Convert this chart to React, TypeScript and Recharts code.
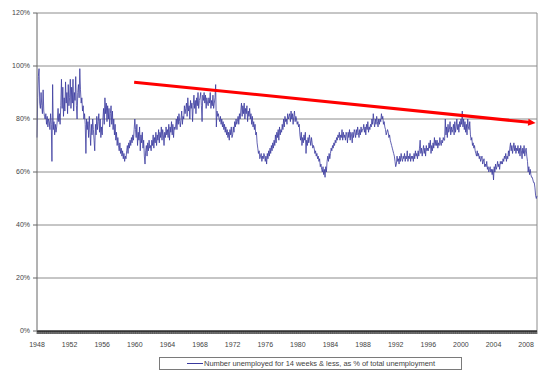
import React from "react";
import { LineChart, Line, XAxis, YAxis, CartesianGrid, ReferenceLine } from "recharts";

// Monthly values, % of total unemployment (Jan 1948 .. May 2009), one row per year
const years1948to1959 = [
  [73, 88, 96, 99, 86, 84, 90, 85, 82, 91, 83, 81],
  [80, 82, 78, 81, 77, 80, 79, 76, 82, 78, 64, 93],
  [76, 79, 74, 78, 75, 77, 80, 84, 79, 82, 78, 85],
  [95, 84, 92, 81, 88, 83, 94, 86, 90, 82, 93, 85],
  [88, 95, 84, 92, 86, 95, 83, 90, 87, 96, 85, 80],
  [90, 93, 88, 99, 91, 86, 88, 83, 85, 80, 82, 78],
  [67, 80, 76, 79, 73, 81, 75, 70, 78, 74, 80, 76],
  [72, 68, 78, 74, 81, 76, 79, 82, 75, 80, 73, 77],
  [74, 80, 84, 78, 88, 82, 86, 79, 85, 80, 84, 77],
  [82, 85, 78, 83, 76, 80, 74, 78, 72, 75, 70, 73],
  [70, 68, 71, 67, 69, 66, 68, 65, 67, 64, 66, 65],
  [68, 70, 67, 71, 69, 72, 70, 73, 71, 74, 72, 76],
];
const years1960to1969 = [
  [80, 76, 73, 78, 70, 75, 72, 77, 68, 74, 71, 75],
  [69, 72, 66, 63, 68, 70, 66, 71, 68, 72, 69, 70],
  [68, 72, 70, 74, 69, 73, 71, 75, 70, 74, 72, 76],
  [71, 75, 73, 77, 72, 76, 74, 70, 75, 73, 77, 74],
  [76, 73, 78, 72, 77, 75, 79, 74, 78, 73, 77, 76],
  [77, 80, 76, 81, 78, 82, 79, 77, 80, 83, 78, 81],
  [80, 85, 82, 84, 86, 81, 88, 83, 85, 80, 87, 84],
  [86, 79, 85, 89, 84, 87, 82, 88, 85, 90, 84, 87],
  [88, 90, 85, 79, 89, 87, 90, 86, 89, 84, 88, 86],
  [85, 88, 86, 90, 84, 87, 85, 89, 84, 86, 88, 93],
];
const years1970to1979 = [
  [77, 83, 81, 82, 80, 79, 81, 78, 80, 77, 79, 76],
  [78, 75, 77, 74, 76, 73, 75, 72, 76, 74, 77, 73],
  [74, 77, 75, 79, 77, 80, 78, 79, 81, 78, 82, 80],
  [83, 86, 81, 85, 82, 86, 80, 84, 82, 85, 79, 83],
  [81, 84, 80, 82, 78, 81, 77, 79, 76, 78, 74, 75],
  [71, 69, 67, 68, 65, 66, 67, 64, 66, 65, 67, 66],
  [64, 66, 63, 67, 65, 68, 66, 69, 67, 70, 68, 71],
  [69, 72, 70, 74, 71, 75, 73, 76, 72, 77, 74, 76],
  [75, 78, 76, 80, 77, 81, 79, 80, 78, 82, 80, 81],
  [82, 79, 83, 80, 82, 78, 81, 83, 79, 81, 80, 78],
];
const years1980to1989 = [
  [79, 77, 78, 74, 72, 75, 70, 73, 71, 74, 72, 75],
  [67, 72, 70, 73, 71, 74, 72, 70, 73, 71, 69, 70],
  [69, 67, 68, 66, 67, 65, 66, 64, 65, 62, 63, 61],
  [60, 62, 59, 61, 58, 62, 60, 64, 66, 64, 67, 65],
  [67, 69, 68, 70, 69, 71, 70, 72, 71, 73, 72, 74],
  [73, 75, 72, 74, 73, 76, 72, 75, 73, 74, 72, 75],
  [74, 71, 75, 73, 76, 72, 75, 74, 71, 75, 73, 76],
  [75, 73, 76, 74, 77, 75, 73, 76, 74, 77, 75, 76],
  [76, 78, 75, 77, 74, 78, 76, 79, 75, 77, 76, 78],
  [77, 80, 78, 82, 79, 77, 80, 78, 81, 79, 77, 80],
];
const years1990to1999 = [
  [78, 80, 79, 82, 80, 81, 78, 79, 77, 76, 74, 75],
  [76, 75, 73, 74, 72, 71, 70, 69, 68, 67, 66, 64],
  [62, 63, 66, 64, 65, 63, 66, 64, 67, 65, 64, 66],
  [65, 67, 64, 66, 65, 68, 64, 66, 65, 67, 64, 66],
  [65, 66, 64, 67, 65, 68, 66, 67, 65, 68, 66, 69],
  [72, 67, 69, 66, 68, 70, 67, 69, 66, 70, 68, 69],
  [68, 71, 69, 72, 67, 70, 68, 71, 69, 73, 70, 72],
  [70, 72, 69, 71, 70, 73, 71, 70, 72, 71, 73, 72],
  [72, 80, 74, 77, 73, 78, 75, 76, 79, 74, 77, 75],
  [76, 78, 74, 79, 75, 77, 80, 76, 78, 75, 79, 77],
];
const years2000to2009 = [
  [80, 78, 83, 77, 80, 76, 79, 75, 78, 74, 80, 77],
  [76, 79, 74, 72, 73, 70, 71, 69, 70, 68, 67, 66],
  [68, 66, 67, 65, 66, 64, 65, 66, 63, 64, 65, 62],
  [63, 62, 64, 61, 62, 60, 61, 62, 60, 61, 59, 61],
  [57, 62, 60, 63, 61, 62, 64, 62, 63, 61, 64, 63],
  [64, 63, 65, 64, 66, 65, 67, 64, 66, 65, 68, 66],
  [69, 71, 68, 70, 67, 69, 71, 68, 70, 67, 69, 68],
  [70, 67, 69, 66, 70, 68, 65, 69, 67, 70, 66, 68],
  [69, 66, 64, 60, 62, 59, 61, 59, 58, 58, 57, 56],
  [56, 54, 51, 50, 51],
];

const startYear = 1948;
const yTicks = [0, 20, 40, 60, 80, 100, 120];
// trend arrow drawn over the series
const trendStart = { x: "1959-12", y: 93.9 };
const trendEnd = { x: "2009-03", y: 78.5 };
const legendLabel = "Number unemployed  for 14 weeks & less,  as % of total  unemployment";

const values = [
  ...years1948to1959,
  ...years1960to1969,
  ...years1970to1979,
  ...years1980to1989,
  ...years1990to1999,
  ...years2000to2009,
].flat();

const data = values.map((value, i) => {
  const year = startYear + Math.floor(i / 12);
  const month = (i % 12) + 1;
  return { date: `${year}-${String(month).padStart(2, "0")}`, value };
});
const lastDate = data[data.length - 1].date;

const FONT = "'Liberation Sans', Arial, sans-serif";
const NAVY = "#3a3a9e";

const YearTick = (props: any) => {
  const { x, y, payload } = props;
  const [yr, mo] = String(payload.value).split("-");
  if (mo !== "01" || (Number(yr) - startYear) % 4 !== 0) return <g />;
  return (
    <text x={x} y={y} dy="0.71em" textAnchor="middle" fontSize={7} fill="#444" fontFamily={FONT}>
      {yr}
    </text>
  );
};

const TrendArrow = (props: any) => {
  const { x1, y1, x2, y2 } = props;
  const dx = x2 - x1;
  const dy = y2 - y1;
  const len = Math.hypot(dx, dy) || 1;
  const ux = dx / len;
  const uy = dy / len;
  const head = 7.5;
  const half = 3.6;
  const bx = x2 - ux * head;
  const by = y2 - uy * head;
  return (
    <g>
      <line x1={x1} y1={y1} x2={bx + ux} y2={by + uy} stroke="#ff0000" strokeWidth={3} />
      <polygon
        points={`${x2},${y2} ${bx - uy * half},${by + ux * half} ${bx + uy * half},${by - ux * half}`}
        fill="#ff0000"
      />
    </g>
  );
};

export default function App() {
  return (
    <div style={{ position: "absolute", left: 0, top: 0, width: 551, height: 375, background: "#fff" }}>
      <LineChart width={551} height={375} data={data} margin={{ top: 13, right: 14, bottom: 24, left: 0 }}>
        <CartesianGrid vertical={false} stroke="#8c8c8c" />
        <XAxis
          dataKey="date"
          interval={0}
          tick={<YearTick />}
          tickSize={3}
          tickMargin={8}
          height={20}
          stroke="#000"
          tickLine={{ stroke: "#222", strokeWidth: 0.6 }}
        />
        <YAxis
          domain={[0, 120]}
          ticks={yTicks}
          tickFormatter={(v: number) => `${v}%`}
          width={37}
          tickSize={4}
          tickMargin={3}
          stroke="#666"
          tick={{ fontSize: 7, fill: "#444", fontFamily: FONT }}
        />
        <ReferenceLine x={lastDate} stroke="#8c8c8c" />
        <Line
          type="linear"
          dataKey="value"
          stroke={NAVY}
          strokeWidth={0.8}
          dot={false}
          isAnimationActive={false}
        />
        <ReferenceLine segment={[trendStart, trendEnd]} shape={<TrendArrow />} ifOverflow="visible" />
      </LineChart>
      <svg width={551} height={375} style={{ position: "absolute", left: 0, top: 0, pointerEvents: "none" }}>
        <rect x={159.5} y={357.5} width={302} height={12} fill="#fff" stroke="#7a7a7a" />
        <line x1={187} y1={363.5} x2={203} y2={363.5} stroke={NAVY} strokeWidth={1} />
        <text x={204} y={366} fontSize={7.5} fill="#444" fontFamily={FONT} textLength={231} lengthAdjust="spacing">
          {legendLabel}
        </text>
      </svg>
    </div>
  );
}
